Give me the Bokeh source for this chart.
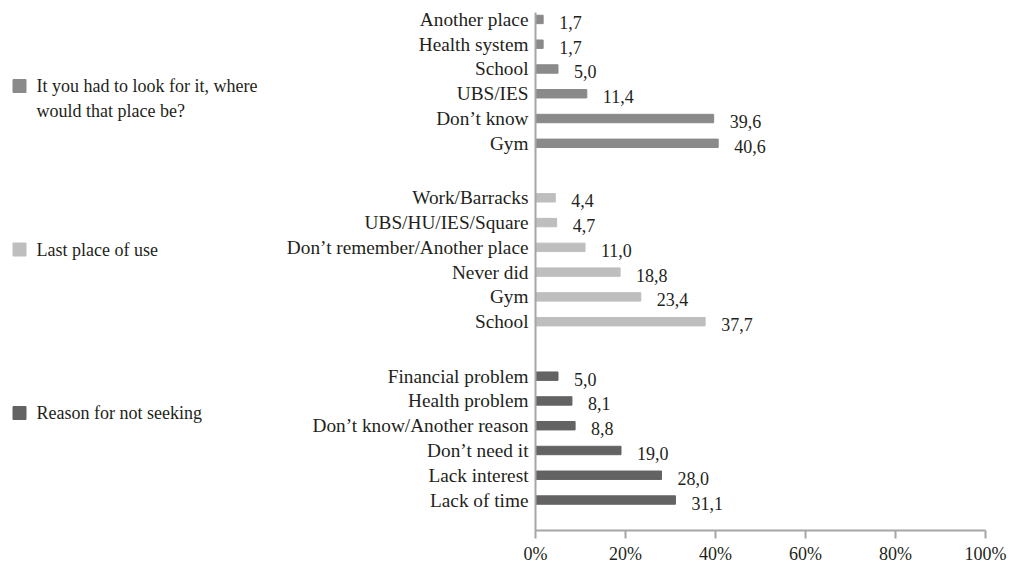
from bokeh.plotting import figure
from bokeh.layouts import row
from bokeh.models import Range1d, FixedTicker, ColumnDataSource
from bokeh.core.properties import value
from bokeh.embed import file_html
from bokeh.resources import INLINE

# ---- data ----
group_names = [
    "It you had to look for it, where would that place be?",
    "Last place of use",
    "Reason for not seeking",
]
group_name_lines = [
    ["It you had to look for it, where", "would that place be?"],
    ["Last place of use"],
    ["Reason for not seeking"],
]
cats_where = ["Another place", "Health system", "School", "UBS/IES", "Don\u2019t know", "Gym"]
vals_where = [1.7, 1.7, 5.0, 11.4, 39.6, 40.6]
cats_last = ["Work/Barracks", "UBS/HU/IES/Square", "Don\u2019t remember/Another place",
             "Never did", "Gym", "School"]
vals_last = [4.4, 4.7, 11.0, 18.8, 23.4, 37.7]
cats_reason = ["Financial problem", "Health problem", "Don\u2019t know/Another reason",
               "Don\u2019t need it", "Lack interest", "Lack of time"]
vals_reason = [5.0, 8.1, 8.8, 19.0, 28.0, 31.1]
x_ticks = [0, 20, 40, 60, 80, 100]
x_tick_labels = ["0%", "20%", "40%", "60%", "80%", "100%"]

# ---- styles ----
FONT = "Liberation Serif"
TEXT = "#231f20"
AXIS = "#a6a6a6"
colors = ["#8a8a8a", "#bebebe", "#636363"]
STEP = 10
GROUP_STEP = 72

ys, labels, vals, cols, vlabels = [], [], [], [], []
for g, (cats, vs) in enumerate([(cats_where, vals_where), (cats_last, vals_last),
                                (cats_reason, vals_reason)]):
    for i, (c, v) in enumerate(zip(cats, vs)):
        ys.append(g * GROUP_STEP + i * STEP)
        labels.append(c)
        vals.append(v)
        cols.append(colors[g])
        vlabels.append(f"{v:.1f}".replace(".", ","))

src = ColumnDataSource(dict(y=ys, v=vals, color=cols, lbl=vlabels))

main = figure(frame_width=450, frame_height=518,
              min_border_left=255, min_border_right=25,
              min_border_top=12, min_border_bottom=40,
              x_range=Range1d(0, 100), y_range=Range1d(206.3, -2.8),
              output_backend="svg", toolbar_location=None)
main.hbar(y="y", right="v", left=0, height=3.4, color="color", source=src)
main.text(x="v", y="y", text="lbl", x_offset=16, y_offset=3,
          text_baseline="middle", text_align="left",
          text_font=value(FONT), text_font_size="18px", text_color=TEXT, source=src)

main.xgrid.grid_line_color = None
main.ygrid.grid_line_color = None
main.outline_line_color = None

xa = main.xaxis[0]
xa.ticker = FixedTicker(ticks=x_ticks)
xa.major_label_overrides = {t: l for t, l in zip(x_ticks, x_tick_labels)}
xa.axis_line_color = AXIS
xa.axis_line_width = 2
xa.major_tick_line_color = AXIS
xa.major_tick_line_width = 2
xa.major_tick_in = 0
xa.major_tick_out = 8
xa.minor_tick_line_color = None
xa.minor_tick_out = 0
xa.minor_tick_in = 0
xa.major_label_standoff = 5
xa.major_label_text_font = FONT
xa.major_label_text_font_size = "18px"
xa.major_label_text_color = TEXT

ya = main.yaxis[0]
ya.ticker = FixedTicker(ticks=ys)
ya.major_label_overrides = {y: l for y, l in zip(ys, labels)}
ya.axis_line_color = AXIS
ya.axis_line_width = 2
ya.major_tick_line_color = None
ya.major_tick_out = 0
ya.major_tick_in = 0
ya.minor_tick_line_color = None
ya.minor_tick_out = 0
ya.minor_tick_in = 0
ya.major_label_standoff = 7
ya.major_label_text_font = FONT
ya.major_label_text_font_size = "19.3px"
ya.major_label_text_color = TEXT

# ---- legend panel (pixel-like coordinates, frame aligned with main frame) ----
leg = figure(frame_width=280, frame_height=518, x_range=Range1d(0, 280),
             y_range=Range1d(530, 12),
             min_border_left=0, min_border_right=0,
             min_border_top=12, min_border_bottom=40,
             x_axis_type=None, y_axis_type=None,
             output_backend="svg", toolbar_location=None)
leg.xgrid.grid_line_color = None
leg.ygrid.grid_line_color = None
leg.outline_line_color = None

leg_y0 = 85.5
leg_gap = 163.5
line_h = 25
sq_x, sq_y, sq_c = [], [], []
tx, ty, tt = [], [], []
for g, lines in enumerate(group_name_lines):
    yy = leg_y0 + g * leg_gap
    sq_x.append(19)
    sq_y.append(yy)
    sq_c.append(colors[g])
    for k, ln in enumerate(lines):
        tx.append(36)
        ty.append(yy + k * line_h)
        tt.append(ln)

leg.scatter(x=sq_x, y=sq_y, marker="square", size=13, color=sq_c)
leg.text(x=tx, y=ty, text=tt, text_baseline="middle", text_align="left",
         text_font=value(FONT), text_font_size="18px", text_color=TEXT)

layout = row(leg, main)
open("out.html", "w").write(file_html(layout, INLINE))
